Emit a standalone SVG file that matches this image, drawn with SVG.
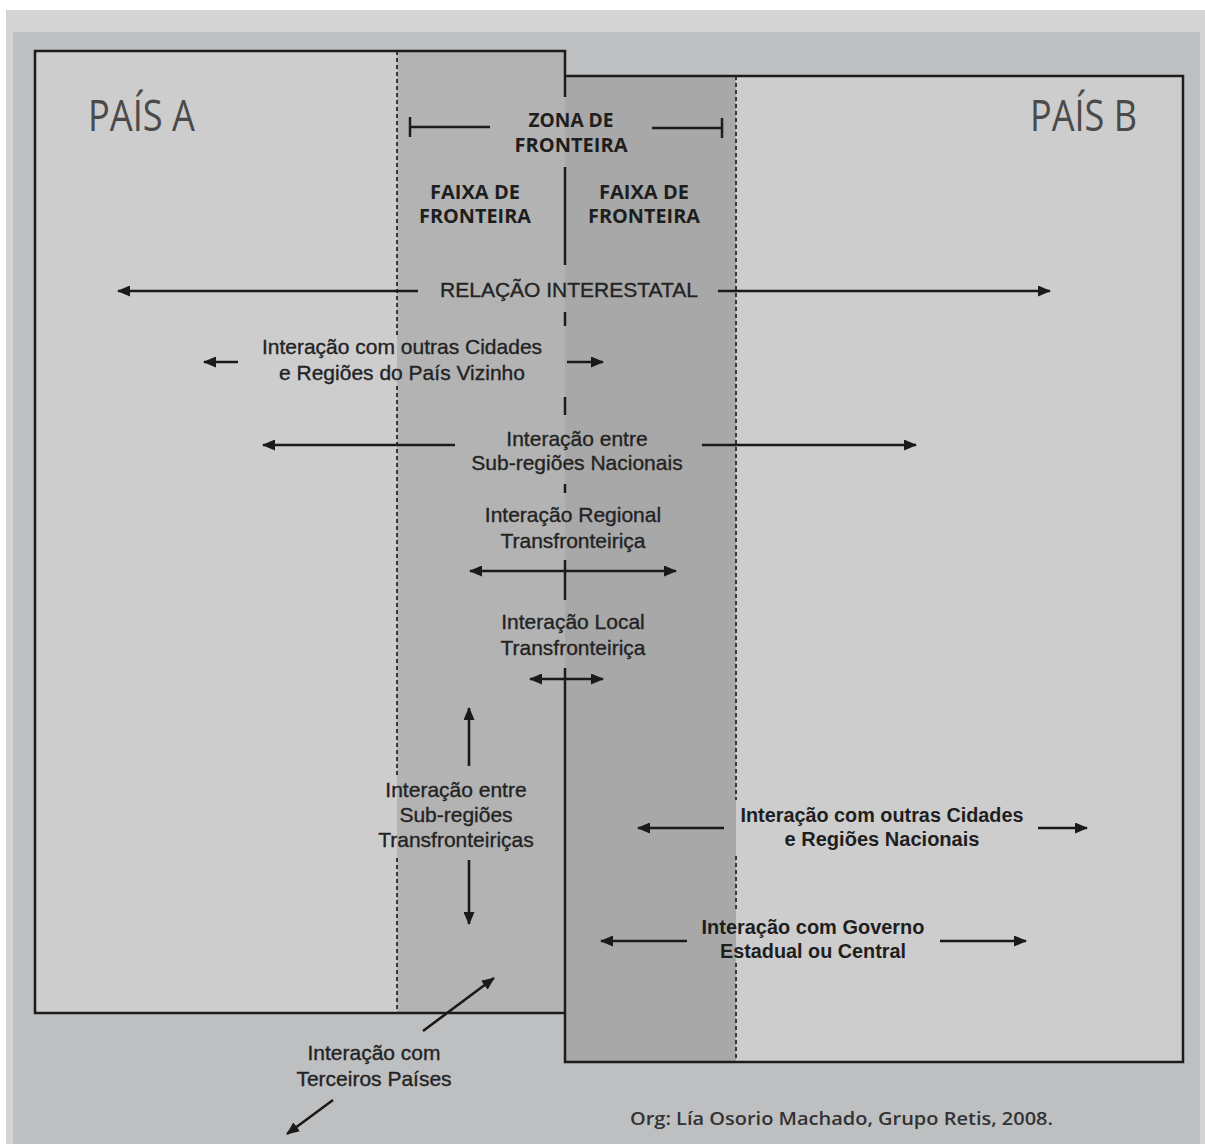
<svg xmlns="http://www.w3.org/2000/svg" width="1205" height="1144" viewBox="0 0 1205 1144">
<style>
.lbl{font-family:"Liberation Sans",Arial,sans-serif;font-size:21px;fill:#232323;stroke:#232323;stroke-width:0.35;text-anchor:middle}
.bld{font-family:"Liberation Sans",Arial,sans-serif;font-size:20px;font-weight:bold;fill:#1e1e1e;text-anchor:middle}
.cap{font-family:"Open Sans","DejaVu Sans",sans-serif;font-size:19px;font-weight:bold;fill:#1e1e1e;text-anchor:middle}
.pais{font-family:"Open Sans","Liberation Sans",sans-serif;font-size:43px;font-weight:400;fill:#4a4a4a}
.org{font-family:"Open Sans","DejaVu Sans",sans-serif;font-size:18px;font-weight:600;fill:#333}
.edge{fill:none;stroke:#1c1c1c;stroke-width:2.5}
.dash{fill:none;stroke:#2a2a2a;stroke-width:1.8;stroke-dasharray:4 3}
.arr{fill:none;stroke:#1a1a1a;stroke-width:2.6}
.e{marker-end:url(#ah)}
.s{marker-start:url(#ahs)}
</style>
<defs>
<marker id="ah" viewBox="0 0 13 11" refX="12" refY="5.5" markerWidth="13" markerHeight="11" markerUnits="userSpaceOnUse" orient="auto">
<path d="M0,0 L13,5.5 L0,11 z" fill="#1a1a1a"/>
</marker>
<marker id="ahs" viewBox="0 0 13 11" refX="1" refY="5.5" markerWidth="13" markerHeight="11" markerUnits="userSpaceOnUse" orient="auto">
<path d="M13,0 L0,5.5 L13,11 z" fill="#1a1a1a"/>
</marker>
</defs>
<rect x="0" y="0" width="1205" height="1144" fill="#ffffff"/>
<rect x="6" y="10" width="1199" height="1134" fill="#d4d4d4"/>
<rect x="13" y="32" width="1187" height="1112" fill="#bebfc1"/>
<g id="pais-a">
<rect x="35" y="51" width="530" height="962" fill="#cdcdcd"/>
<rect x="397" y="51" width="168" height="962" fill="#b3b3b3"/>
<text class="pais" x="88" y="131" textLength="107" lengthAdjust="spacingAndGlyphs">PAÍS A</text>
</g>
<g id="pais-b">
<rect x="565" y="76" width="618" height="986" fill="#cdcdcd"/>
<rect x="565" y="76" width="171" height="986" fill="#a8a8a8"/>
<text class="pais" x="1030" y="131" textLength="107" lengthAdjust="spacingAndGlyphs">PAÍS B</text>
</g>
<g id="borders">
<path class="edge" d="M565,97 V51 H35 V1013 H565"/>
<path class="edge" d="M565,76 H1183 V1062 H565 V668"/>
<path class="edge" d="M565,167 V265 M565,312 V326 M565,397 V415 M565,484 V493 M565,560 V600"/>
<path class="dash" d="M397,51 V335 M397,386 V777 M397,858 V1013"/>
<path class="dash" d="M736,76 V800 M736,856 V912 M736,963 V1062"/>
</g>
<g id="zona">
<path class="edge" d="M410,127 H490 M410,117 V137 M652,128 H722 M722,118 V138"/>
<text class="cap" x="571" y="127" textLength="85" lengthAdjust="spacingAndGlyphs">ZONA DE</text>
<text class="cap" x="571" y="152" textLength="113" lengthAdjust="spacingAndGlyphs">FRONTEIRA</text>
</g>
<g id="faixa-a">
<text class="cap" x="475" y="199" textLength="90" lengthAdjust="spacingAndGlyphs">FAIXA DE</text>
<text class="cap" x="475" y="223" textLength="112" lengthAdjust="spacingAndGlyphs">FRONTEIRA</text>
</g>
<g id="faixa-b">
<text class="cap" x="644" y="199" textLength="90" lengthAdjust="spacingAndGlyphs">FAIXA DE</text>
<text class="cap" x="644" y="223" textLength="112" lengthAdjust="spacingAndGlyphs">FRONTEIRA</text>
</g>
<g id="relacao-interestatal">
<text class="lbl" x="569" y="297">RELAÇÃO INTERESTATAL</text>
</g>
<g id="interacao-pais-vizinho">
<text class="lbl" x="402" y="354">Interação com outras Cidades</text>
<text class="lbl" x="402" y="380">e Regiões do País Vizinho</text>
</g>
<g id="interacao-subregioes-nacionais">
<text class="lbl" x="577" y="446">Interação entre</text>
<text class="lbl" x="577" y="470">Sub-regiões Nacionais</text>
</g>
<g id="interacao-regional">
<text class="lbl" x="573" y="522">Interação Regional</text>
<text class="lbl" x="573" y="548">Transfronteiriça</text>
</g>
<g id="interacao-local">
<text class="lbl" x="573" y="629">Interação Local</text>
<text class="lbl" x="573" y="655">Transfronteiriça</text>
</g>
<g id="interacao-subregioes-transfronteiricas">
<text class="lbl" x="456" y="797">Interação entre</text>
<text class="lbl" x="456" y="822">Sub-regiões</text>
<text class="lbl" x="456" y="847">Transfronteiriças</text>
</g>
<g id="interacao-regioes-nacionais">
<text class="bld" x="882" y="822" textLength="283" lengthAdjust="spacingAndGlyphs">Interação com outras Cidades</text>
<text class="bld" x="882" y="846" textLength="195" lengthAdjust="spacingAndGlyphs">e Regiões Nacionais</text>
</g>
<g id="interacao-governo">
<text class="bld" x="813" y="934" textLength="223" lengthAdjust="spacingAndGlyphs">Interação com Governo</text>
<text class="bld" x="813" y="958" textLength="186" lengthAdjust="spacingAndGlyphs">Estadual ou Central</text>
</g>
<g id="interacao-terceiros">
<text class="lbl" x="374" y="1060">Interação com</text>
<text class="lbl" x="374" y="1086">Terceiros Países</text>
</g>
<g id="credito">
<text class="org" x="630" y="1125" textLength="423" lengthAdjust="spacingAndGlyphs">Org: Lía Osorio Machado, Grupo Retis, 2008.</text>
</g>
<g id="connectors">
<path class="arr e" d="M418,291 H118"/>
<path class="arr e" d="M718,291 H1050"/>
<path class="arr e" d="M238,362 H204"/>
<path class="arr e" d="M567,362 H603"/>
<path class="arr e" d="M455,445 H263"/>
<path class="arr e" d="M702,445 H916"/>
<path class="arr s e" d="M470,571 H676"/>
<path class="arr s e" d="M530,679 H603"/>
<path class="arr e" d="M469,766 V708"/>
<path class="arr e" d="M469,860 V924"/>
<path class="arr e" d="M724,828 H638"/>
<path class="arr e" d="M1038,828 H1087"/>
<path class="arr e" d="M687,941 H601"/>
<path class="arr e" d="M940,941 H1026"/>
<path class="arr e" d="M423,1031 L494,978"/>
<path class="arr e" d="M333,1100 L287,1134"/>
</g>
</svg>
